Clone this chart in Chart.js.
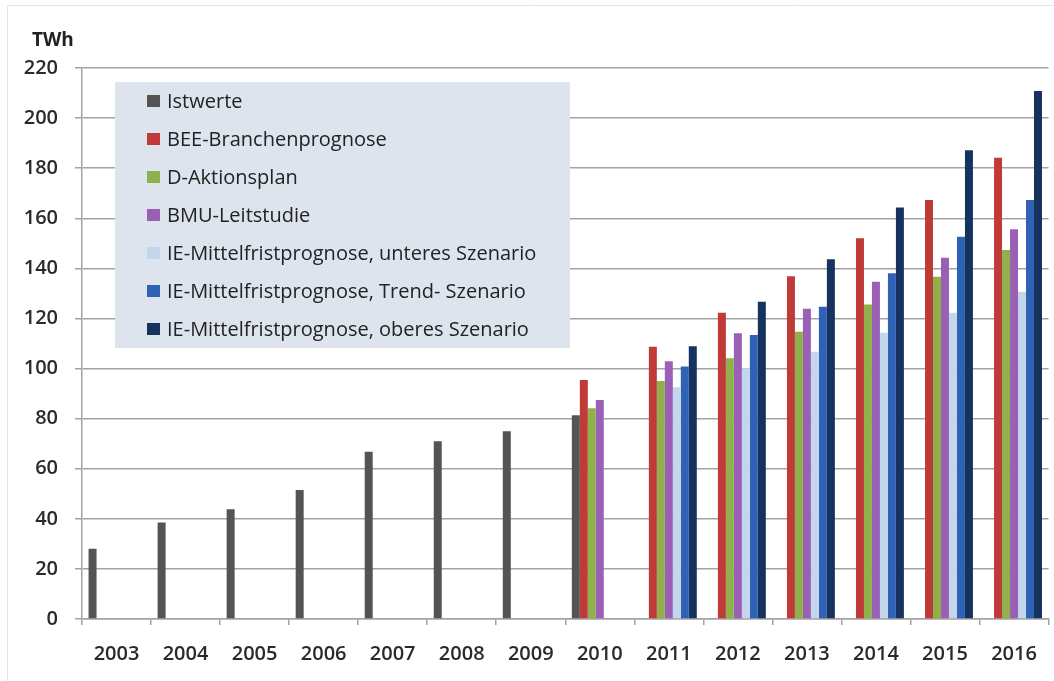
<!DOCTYPE html>
<html lang="de">
<head>
  <meta charset="UTF-8">
  <title>Strom aus erneuerbaren Energien - Prognosen</title>
  <script src="https://cdn.jsdelivr.net/npm/chart.js"></script>
  <style>
    body {
      margin: 0;
      background: #fff;
    }
    #chart {
      display: block;
    }
  </style>
</head>
<body>
  <canvas id="chart" width="1054" height="681"></canvas>

  <script>
    // Jahre (x-Achse)
    const years = ['2003', '2004', '2005', '2006', '2007', '2008', '2009', '2010', '2011', '2012', '2013', '2014', '2015', '2016'];

    // Werte in TWh
    const istwerte = [28, 38.5, 43.8, 51.5, 66.8, 71, 75, 81.4, null, null, null, null, null, null];
    const beeBranche = [null, null, null, null, null, null, null, 95.4, 108.7, 122.3, 136.9, 152, 167.3, 184.2];
    const dAktionsplan = [null, null, null, null, null, null, null, 84.1, 95, 104.1, 114.7, 125.6, 136.7, 147.3];
    const bmuLeitstudie = [null, null, null, null, null, null, null, 87.4, 102.9, 114.1, 123.9, 134.7, 144.2, 155.6];
    const ieUnteres = [null, null, null, null, null, null, null, null, 92.5, 100.1, 106.7, 114.3, 122.3, 130.7];
    const ieTrend = [null, null, null, null, null, null, null, null, 100.8, 113.4, 124.7, 138, 152.6, 167.3];
    const ieOberes = [null, null, null, null, null, null, null, null, 108.9, 126.7, 143.6, 164.3, 187.2, 210.8];

    const seriesNames = [
      'Istwerte',
      'BEE-Branchenprognose',
      'D-Aktionsplan',
      'BMU-Leitstudie',
      'IE-Mittelfristprognose, unteres Szenario',
      'IE-Mittelfristprognose, Trend- Szenario',
      'IE-Mittelfristprognose, oberes Szenario'
    ];
    const seriesColors = ['#545454', '#be3b38', '#8fb04a', '#9a60b6', '#c4d6ec', '#2f62b5', '#16325f'];
    const seriesData = [istwerte, beeBranche, dAktionsplan, bmuLeitstudie, ieUnteres, ieTrend, ieOberes];

    const gridColor = '#a3a3a3';
    const textFont = "'Open Sans', sans-serif";

    // Legende als Kasten im Diagramm, TWh-Beschriftung und Rahmen
    const extras = {
      id: 'extras',
      beforeDraw(chart) {
        const ctx = chart.ctx;
        ctx.save();
        ctx.fillStyle = '#fff';
        ctx.fillRect(0, 0, chart.width, chart.height);
        ctx.strokeStyle = '#e2e6eb';
        ctx.lineWidth = 1;
        ctx.beginPath();
        ctx.moveTo(7.5, chart.height);
        ctx.lineTo(7.5, 5.5);
        ctx.lineTo(chart.width, 5.5);
        ctx.stroke();
        ctx.restore();
      },
      afterDraw(chart) {
        const ctx = chart.ctx;
        ctx.save();

        ctx.fillStyle = '#222';
        ctx.font = "bold 19px " + textFont;
        ctx.textBaseline = 'middle';
        ctx.fillText('TWh', 32, 41);

        ctx.fillStyle = '#dde4ee';
        ctx.fillRect(115, 82, 455, 266);

        ctx.font = "20px " + textFont;
        chart.data.datasets.forEach((ds, i) => {
          const y = 101 + i * 38;
          ctx.fillStyle = ds.backgroundColor;
          ctx.fillRect(147, y - 6, 13, 12);
          ctx.fillStyle = '#222';
          ctx.fillText(ds.label, 167, y + 1);
        });
        ctx.restore();
      }
    };

    new Chart(document.getElementById('chart'), {
      type: 'bar',
      data: {
        labels: years,
        datasets: seriesNames.map((name, i) => ({
          label: name,
          data: seriesData[i],
          backgroundColor: seriesColors[i],
          categoryPercentage: 0.81,
          barPercentage: 1.0
        }))
      },
      options: {
        responsive: false,
        animation: false,
        layout: {
          padding: { top: 68, right: 3, left: 0, bottom: 0 }
        },
        plugins: {
          legend: { display: false },
          tooltip: { enabled: false }
        },
        scales: {
          x: {
            grid: {
              drawOnChartArea: false,
              tickLength: 6,
              tickColor: gridColor,
              lineWidth: 1.5
            },
            border: { color: gridColor, width: 1.5 },
            ticks: {
              color: '#2a2a2a',
              padding: 17,
              maxRotation: 0,
              font: { family: textFont, size: 20, weight: '600' }
            },
            afterFit(scale) { scale.height = 62; }
          },
          y: {
            min: 0,
            max: 220,
            grid: {
              color: (c) => (c.tick && c.tick.value % 20 === 0 ? gridColor : 'rgba(0,0,0,0)'),
              tickColor: gridColor,
              tickLength: 7,
              lineWidth: 1.5
            },
            border: { color: gridColor, width: 1.5 },
            ticks: {
              stepSize: 10,
              padding: 17,
              color: '#2a2a2a',
              font: { family: textFont, size: 20, weight: '600' },
              callback: (v) => (v % 20 === 0 ? v : '')
            },
            afterFit(scale) { scale.width = 82; }
          }
        }
      },
      plugins: [extras]
    });
  </script>
</body>
</html>
